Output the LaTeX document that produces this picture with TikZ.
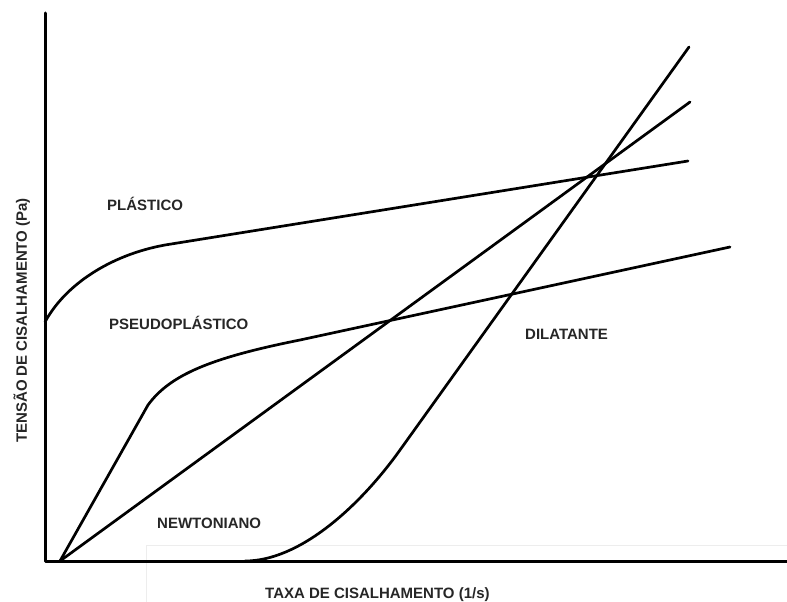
\documentclass[tikz,border=0pt]{standalone}
\usepackage{fontspec}
\setmainfont{Liberation Sans}
\begin{document}
\begin{tikzpicture}[x=1pt,y=-1pt,
  curve/.style={line width=2.7pt, line cap=round, line join=round},
  axis/.style={line width=3pt, line cap=round, line join=round},
  lbl/.style={font=\bfseries\fontsize{15}{18}\selectfont, text=black!85, inner sep=0pt, anchor=base west}]
\useasboundingbox (0,0) rectangle (787,602);
% faint frame
\draw[black!7, line width=1pt] (146,610) -- (146,545) -- (795,545);
% coordinates
\coordinate (ytop) at (45,13);
\coordinate (corner) at (45,561);
\coordinate (xend) at (790,561);
\coordinate (O) at (60,561);
\coordinate (plA) at (45,322);
\coordinate (plB) at (165,245);
\coordinate (plC) at (688,161);
\coordinate (psA) at (148,405);
\coordinate (psB) at (300,340);
\coordinate (psC) at (730,247);
\coordinate (nwC) at (690,102);
\coordinate (dlA) at (245,561);
\coordinate (dlB) at (400,450);
\coordinate (dlC) at (689,47);
% axes
\draw[axis] (ytop) -- (corner) -- (xend);
% curves
\draw[curve] (plA) .. controls (65,285) and (110,255) .. (plB) -- (plC);
\draw[curve] (O) -- (psA) .. controls (170,375) and (210,358) .. (psB) -- (psC);
\draw[curve] (O) -- (nwC);
\draw[curve] (dlA) .. controls (300,561) and (360,506) .. (dlB) -- (dlC);
% labels
\node[lbl] (plastico) at (107,210) {PLÁSTICO};
\node[lbl] (pseudo) at (109,329) {PSEUDOPLÁSTICO};
\node[lbl] (dilatante) at (525,339) {DILATANTE};
\node[lbl] (newton) at (157,528) {NEWTONIANO};
\node[lbl] (xlabel) at (265,598) {TAXA DE CISALHAMENTO (1/s)};
\node[lbl, rotate=90] (ylabel) at (27,443) {TENSÃO DE CISALHAMENTO (Pa)};
\end{tikzpicture}
\end{document}
